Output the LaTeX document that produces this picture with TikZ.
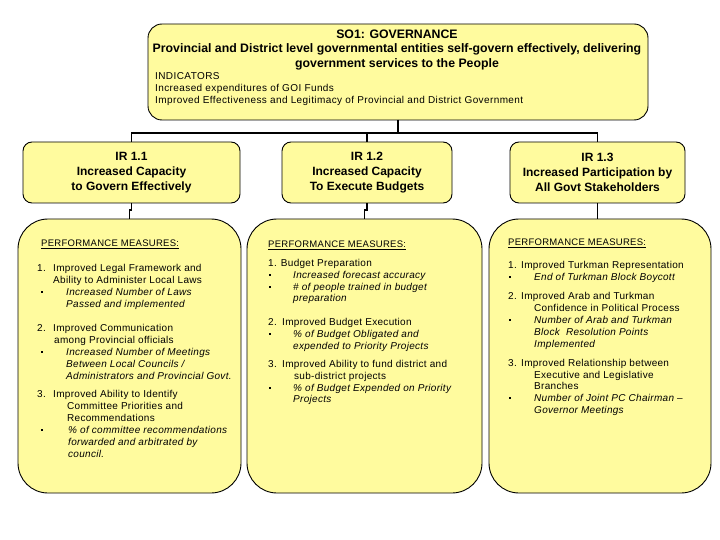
\documentclass[tikz,border=0pt]{standalone}
\usepackage{fontspec}
\setmainfont{Liberation Sans}
\newfontfamily\pmfont[LetterSpace=3]{Liberation Sans}
\newfontfamily\indfont[LetterSpace=4]{Liberation Sans}
\definecolor{boxyellow}{RGB}{255,251,158}
\newcommand\Ln[4]{\node[ln] (#1) at (#2,{#3+3.6}) {#4};}
\newcommand\Bul[3]{\node[bul] (#1) at (#2,#3) {};}
\begin{document}
\begin{tikzpicture}[x=1pt,y=-1pt,
  tbox/.style={draw=black,line width=0.9pt,fill=boxyellow,rectangle,inner sep=0pt,outer sep=0pt,rounded corners=14pt},
  irbox/.style={draw=black,line width=0.9pt,fill=boxyellow,rectangle,inner sep=0pt,outer sep=0pt,rounded corners=9pt,minimum height=61pt},
  pmbox/.style={draw=black,line width=0.9pt,fill=boxyellow,rectangle,inner sep=0pt,outer sep=0pt,rounded corners=30pt,minimum height=274pt},
  conn/.style={draw=black,line width=1.8pt},
  ln/.style={anchor=base west,inner sep=0pt,font=\pmfont\fontsize{10pt}{12pt}\selectfont},
  bul/.style={fill=black,inner sep=0pt,minimum size=2.8pt},
  irtext/.style={font=\bfseries\fontsize{12pt}{15pt}\selectfont,align=center,inner sep=0pt}
]
\useasboundingbox (0,0) rectangle (720,540);

% boxes
\node[tbox,minimum width=500pt,minimum height=96pt] (top) at (398,72) {};
\node[irbox,minimum width=217pt] (ir1) at (131.5,172.5) {};
\node[irbox,minimum width=170pt] (ir2) at (367,172.5) {};
\node[irbox,minimum width=175pt] (ir3) at (597.5,172.5) {};
\node[pmbox,minimum width=223pt] (pm1) at (129.5,356) {};
\node[pmbox,minimum width=235pt] (pm2) at (364.5,356) {};
\node[pmbox,minimum width=222pt] (pm3) at (600,356) {};

% connectors
\coordinate (bar) at (0,133);
\draw[conn] (top.south) -- (top.south |- bar);
\draw[conn] (ir1.north) |- (ir3.north |- bar) -- (ir3.north);
\draw[conn] (ir2.north) -- (ir2.north |- bar);
\draw[conn] (ir1.south) -- ++(0,7) -| (pm1.north);
\draw[conn] (ir2.south) -- ++(0,7) -| (pm2.north);
\draw[conn] (ir3.south) -- (ir3.south |- pm3.north);

% top box text
\node[font=\bfseries\fontsize{12.3pt}{14.5pt}\selectfont,align=center,inner sep=0pt] (title) at (397,50)
  {SO1: GOVERNANCE\\Provincial and District level governmental entities self-govern effectively, delivering\\government services to the People};
\node[anchor=west,inner sep=0pt,align=left,font=\indfont\fontsize{10pt}{12pt}\selectfont] (ind) at (155,89.5)
  {INDICATORS\\Increased expenditures of GOI Funds\\Improved Effectiveness and Legitimacy of Provincial and District Government};

% IR texts
\node[irtext] (ir1t) at (ir1.center) {IR 1.1\\Increased Capacity\\to Govern Effectively};
\node[irtext] (ir2t) at (ir2.center) {IR 1.2\\Increased Capacity\\To Execute Budgets};
\node[irtext] (ir3t) at (ir3.center) {IR 1.3\\Increased Participation by\\All Govt Stakeholders};

% box 1
\Ln{pa0}{41}{243}{\fontsize{9.5pt}{12pt}\selectfont\underline{PERFORMANCE MEASURES:}}
\Ln{pa1}{37}{268}{1.}
\Ln{pa2}{53}{268}{Improved Legal Framework and}
\Ln{pa3}{53}{280}{Ability to Administer Local Laws}
\Bul{ba1}{42}{292}
\Ln{pa4}{66}{292}{\itshape Increased Number of Laws}
\Ln{pa5}{66}{304}{\itshape Passed and implemented}
\Ln{pa6}{37}{328}{2.}
\Ln{pa7}{53}{328}{Improved Communication}
\Ln{pa8}{54}{340}{among Provincial officials}
\Bul{ba2}{42}{352}
\Ln{pa9}{66}{352}{\itshape Increased Number of Meetings}
\Ln{pa10}{66}{364}{\itshape Between Local Councils /}
\Ln{pa11}{66}{376}{\itshape Administrators and Provincial Govt.}
\Ln{pa12}{37}{394}{3.}
\Ln{pa13}{53}{394}{Improved Ability to Identify}
\Ln{pa14}{67}{406}{Committee Priorities and}
\Ln{pa15}{67}{418}{Recommendations}
\Bul{ba3}{42}{430}
\Ln{pa16}{68}{430}{\itshape \% of committee recommendations}
\Ln{pa17}{68}{442}{\itshape forwarded and arbitrated by}
\Ln{pa18}{68}{454}{\itshape council.}

% box 2
\Ln{pb0}{268}{244}{\fontsize{9.5pt}{12pt}\selectfont\underline{PERFORMANCE MEASURES:}}
\Ln{pb1}{268}{263}{1. Budget Preparation}
\Bul{bb1}{270}{275}
\Ln{pb2}{293}{275}{\itshape Increased forecast accuracy}
\Bul{bb2}{270}{287}
\Ln{pb3}{293}{287}{\itshape \# of people trained in budget}
\Ln{pb4}{293}{298}{\itshape preparation}
\Ln{pb5}{268}{322}{2.}
\Ln{pb6}{282}{322}{Improved Budget Execution}
\Bul{bb3}{270}{334}
\Ln{pb7}{293}{334}{\itshape \% of Budget Obligated and}
\Ln{pb8}{293}{346}{\itshape expended to Priority Projects}
\Ln{pb9}{268}{364}{3.}
\Ln{pb10}{282}{364}{Improved Ability to fund district and}
\Ln{pb11}{294}{376}{sub-district projects}
\Bul{bb4}{270}{388}
\Ln{pb12}{293}{388}{\itshape \% of Budget Expended on Priority}
\Ln{pb13}{293}{399}{\itshape Projects}

% box 3
\Ln{pc0}{508}{242}{\fontsize{9.5pt}{12pt}\selectfont\underline{PERFORMANCE MEASURES:}}
\Ln{pc1}{508}{265}{1.}
\Ln{pc2}{521}{265}{Improved Turkman Representation}
\Bul{bc1}{510}{277}
\Ln{pc3}{534}{277}{\itshape End of Turkman Block Boycott}
\Ln{pc4}{508}{296}{2.}
\Ln{pc5}{521}{296}{Improved Arab and Turkman}
\Ln{pc6}{534}{308}{Confidence in Political Process}
\Bul{bc2}{510}{320}
\Ln{pc7}{534}{320}{\itshape Number of Arab and Turkman}
\Ln{pc8}{534}{332}{\itshape Block\ \ Resolution Points}
\Ln{pc9}{534}{344}{\itshape Implemented}
\Ln{pc10}{508}{363}{3.}
\Ln{pc11}{521}{363}{Improved Relationship between}
\Ln{pc12}{534}{375}{Executive and Legislative}
\Ln{pc13}{534}{386}{Branches}
\Bul{bc3}{510}{398}
\Ln{pc14}{534}{398}{\itshape Number of Joint PC Chairman –}
\Ln{pc15}{534}{410}{\itshape Governor Meetings}
\end{tikzpicture}
\end{document}
